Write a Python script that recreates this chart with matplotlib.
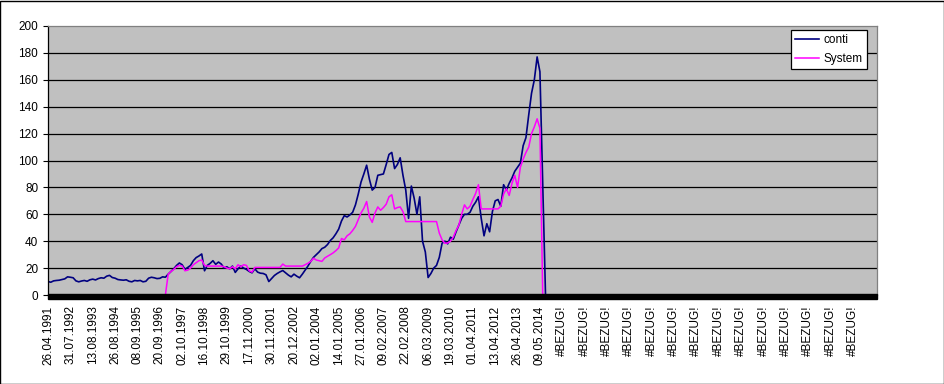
import matplotlib
matplotlib.use('Agg')
import matplotlib.pyplot as plt
import numpy as np
from matplotlib.patches import Rectangle

plt.rcParams['font.family'] = ['Liberation Sans', 'DejaVu Sans']

# Kategorien: ein Label je 8 Datenpunkte
date_labels = ['26.04.1991', '31.07.1992', '13.08.1993', '26.08.1994', '08.09.1995',
               '20.09.1996', '02.10.1997', '16.10.1998', '29.10.1999', '17.11.2000',
               '30.11.2001', '20.12.2002', '02.01.2004', '14.01.2005', '27.01.2006',
               '09.02.2007', '22.02.2008', '06.03.2009', '19.03.2010', '01.04.2011',
               '13.04.2012', '26.04.2013', '09.05.2014']
tick_labels = date_labels + ['#BEZUG!'] * 14
points_per_label = 8

conti = [10, 9.5, 10.5, 10.8, 11, 11.5, 12, 13.5, 13.2, 12.8,
         10.5, 9.8, 10.4, 10.8, 10.2, 11.3, 11.8, 11.2, 12.2, 12.8,
         12.5, 14, 14.6, 13, 12.5, 11.5, 11.2, 11, 11.3, 10.2,
         9.8, 10.8, 10.5, 10.8, 9.8, 10.2, 12.5, 13.2, 12.8, 12.2,
         12.4, 13.5, 13.2, 15.5, 17.5, 19.5, 22, 23.8, 22.5, 19,
         20.5, 22, 25.5, 27.8, 29, 30.5, 18, 22, 23.5, 25.5,
         22.8, 24.5, 23, 20, 21, 19.5, 21.5, 16.8, 19.5, 21.5,
         20, 19, 17.5, 16.5, 19.5, 17, 16.2, 16, 15, 10,
         12.3, 14.5, 16, 17.2, 18.2, 16.5, 14.8, 13.5, 15.5, 14,
         12.8, 15.5, 18.5, 21.5, 25, 28, 30, 32, 34.5, 35.5,
         37.5, 40.5, 42.5, 45.5, 49, 55, 59, 58, 59.5, 61.5,
         67, 75, 84, 90, 96.5, 86, 78, 80, 89, 89.5,
         90, 97, 104.5, 106, 94, 97, 102, 89, 78, 57,
         81, 72, 60, 73, 40, 32, 13, 16, 20, 22,
         28, 38.5, 40, 38, 43, 41.5, 47, 52, 57, 60,
         60, 61.5, 66, 69, 73, 57, 44, 53, 47, 62,
         70, 71, 66, 82, 78, 83, 87, 92, 95, 98,
         111, 117, 134, 150, 160, 177, 166, 82, 0]

system = [np.nan] * 42 + [0,
          15.5, 17.5, 19, 21, 22, 21.5, 18,
          18.5, 20, 22.5, 24, 25.5, 26, 22, 21.5, 21.5, 21.5,
          21.5, 21.5, 21.5, 21, 20, 19.5, 21, 19.5, 22.5, 21,
          22.5, 22, 18, 17, 20.5, 20.5, 20.5, 20.5, 20.5, 20.5,
          20.5, 20.5, 20.5, 20.5, 23, 21.5, 21.5, 21.5, 21.5, 21.5,
          21.5, 21.5, 22.5, 23.6, 25, 27.3, 26, 25.5, 25, 27.5,
          28.8, 30, 31.3, 33, 35, 42, 41, 44, 45.5, 48,
          51, 56, 61, 64.5, 69.5, 58, 54, 61, 65.5, 63,
          65, 67.5, 73, 74.5, 64, 65, 65.5, 62, 54.6, 54.6,
          54.6, 54.6, 54.6, 54.6, 54.6, 54.6, 54.6, 54.6, 54.6, 54.6,
          46, 41, 38.4, 38.7, 40, 43, 48, 52, 60, 67,
          64, 66, 71, 75.5, 82, 64, 64, 64, 64, 64,
          64, 64, 66, 75, 79, 74, 83, 89, 80, 95,
          101, 106, 110, 120, 125, 131, 124, 0]

y_ticks = list(range(0, 201, 20))

fig = plt.figure(figsize=(9.45, 3.84), dpi=100)
fig.patch.set_facecolor('white')
fig.patches.append(Rectangle((0.0005, 0.001), 0.998, 0.997, transform=fig.transFigure,
                             fill=False, edgecolor='black', linewidth=1.0))

ax = fig.add_axes([48 / 945, 89 / 384, 829 / 945, 269 / 384])
ax.set_facecolor('#C0C0C0')

ax.plot(np.arange(len(conti)), conti, color='#000080', lw=1.2, label='conti')
ax.plot(np.arange(len(system)), system, color='#FF00FF', lw=1.1, label='System')

ax.set_ylim(0, 200)
ax.set_xlim(0, (len(tick_labels) - 1) * points_per_label + 8.6)

for v in y_ticks[1:-1]:
    ax.axhline(v, color='black', lw=0.9, zorder=1)

ax.set_yticks(y_ticks)
ax.set_yticklabels([str(v) for v in y_ticks], fontsize=8.5)
ax.set_xticks(np.arange(len(tick_labels)) * points_per_label)
ax.set_xticklabels(tick_labels, rotation=90, fontsize=8.5)
ax.tick_params(axis='x', length=0, pad=7.5)
ax.tick_params(axis='y', length=3.5, width=0.8, pad=3.5, direction='out')

for side in ['top', 'right']:
    ax.spines[side].set_color('#808080')
    ax.spines[side].set_linewidth(0.9)
ax.spines['left'].set_color('black')
ax.spines['left'].set_linewidth(0.9)
ax.spines['bottom'].set_visible(False)

# dicke Kategorienachse
ax.add_patch(Rectangle((0, -0.016), 1, 0.018, transform=ax.transAxes,
                       color='black', clip_on=False, zorder=5))

leg = ax.legend(loc='upper right', bbox_to_anchor=(0.988, 0.985), borderaxespad=0,
                fancybox=False, framealpha=1, edgecolor='black', fontsize=8.5,
                handlelength=2.0, handletextpad=0.4, labelspacing=0.6, borderpad=0.35)
leg.get_frame().set_linewidth(0.9)

fig.savefig('out.png', dpi=100)
